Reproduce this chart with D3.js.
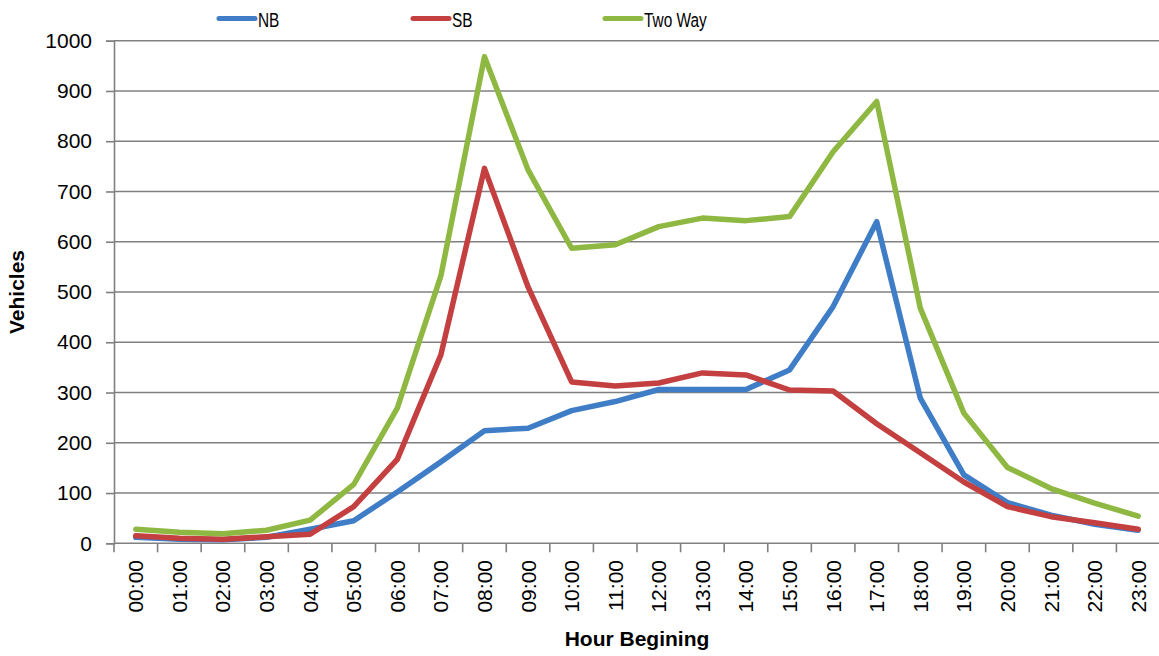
<!DOCTYPE html>
<html>
<head>
<meta charset="utf-8">
<script src="https://cdn.jsdelivr.net/npm/d3@7"></script>
<style>
  html, body { margin: 0; padding: 0; background: #fff; }
  svg { display: block; }
</style>
</head>
<body>
<svg id="chart" width="1159" height="656"></svg>
<script>
const categories = ["00:00","01:00","02:00","03:00","04:00","05:00","06:00","07:00","08:00","09:00","10:00","11:00",
                    "12:00","13:00","14:00","15:00","16:00","17:00","18:00","19:00","20:00","21:00","22:00","23:00"];
const nb     = [12, 8, 7, 12, 28, 45, 102, 162, 224, 229, 264, 282, 306, 306, 306, 345, 471, 640, 289, 136, 81, 56, 38, 26];
const sb     = [15, 10, 8, 13, 18, 73, 167, 375, 746, 510, 321, 313, 319, 339, 335, 305, 303, 238, 180, 122, 73, 53, 41, 28];
const twoWay = [28, 22, 19, 26, 46, 117, 269, 532, 968, 743, 587, 594, 630, 647, 642, 650, 779, 879, 468, 259, 151, 109, 80, 54];
const yTicks = [0, 100, 200, 300, 400, 500, 600, 700, 800, 900, 1000];
const seriesNames = ["NB", "SB", "Two Way"];
const seriesColors = ["#3F7DC6", "#C43F40", "#8FB843"];
const seriesValues = [nb, sb, twoWay];

(function () {
const svg = d3.select("#chart");
const pLeft = 114, pRight = 1160, pTop = 40.7, pBottom = 543.3;
const gray = "#808080";
const font = "'Liberation Sans', Arial, sans-serif";

const x = d3.scaleBand().domain(categories).range([pLeft, pRight]).padding(0);
const y = d3.scaleLinear().domain([0, 1000]).range([pBottom, pTop]);
const cx = c => x(c) + x.bandwidth() / 2;

// gridlines
svg.append("g").selectAll("line").data(yTicks).join("line")
  .attr("x1", pLeft).attr("x2", pRight)
  .attr("y1", d => y(d)).attr("y2", d => y(d))
  .attr("stroke", gray).attr("stroke-width", 1.6);

// y axis
const yAxis = svg.append("g").attr("transform", `translate(${pLeft},0)`)
  .call(d3.axisLeft(y).tickValues(yTicks).tickSize(8).tickPadding(14).tickFormat(d3.format("d")));
yAxis.select(".domain").attr("stroke", gray).attr("stroke-width", 1.6);
yAxis.selectAll(".tick line").attr("stroke", gray).attr("stroke-width", 1.6);
yAxis.selectAll("text").attr("font-family", font).attr("font-size", 21).attr("fill", "#000");

// x axis ticks at band boundaries
const bounds = categories.map(c => x(c)).concat([pRight]);
svg.append("g").selectAll("line").data(bounds).join("line")
  .attr("x1", d => d).attr("x2", d => d)
  .attr("y1", pBottom).attr("y2", pBottom + 9)
  .attr("stroke", gray).attr("stroke-width", 1.6);

// x tick labels
svg.append("g").selectAll("text").data(categories).join("text")
  .attr("transform", d => `translate(${cx(d) + 7.5},${560}) rotate(-90)`)
  .attr("text-anchor", "end")
  .attr("font-family", font).attr("font-size", 21).attr("fill", "#000")
  .text(d => d);

// lines
const line = d3.line().x((d, i) => cx(categories[i])).y(d => y(d));
seriesValues.forEach((vals, k) => {
  svg.append("path").datum(vals)
    .attr("d", line)
    .attr("fill", "none")
    .attr("stroke", seriesColors[k])
    .attr("stroke-width", 5.5)
    .attr("stroke-linejoin", "round")
    .attr("stroke-linecap", "round");
});

// axis titles
svg.append("text")
  .attr("x", (pLeft + pRight) / 2).attr("y", 646)
  .attr("text-anchor", "middle")
  .attr("font-family", font).attr("font-weight", "bold").attr("font-size", 21)
  .text("Hour Begining");
svg.append("text")
  .attr("transform", `translate(24,${(pTop + pBottom) / 2}) rotate(-90)`)
  .attr("text-anchor", "middle")
  .attr("font-family", font).attr("font-weight", "bold").attr("font-size", 21)
  .text("Vehicles");

// legend
const legendX = [219, 413, 605];
const lg = svg.append("g");
seriesNames.forEach((name, k) => {
  lg.append("line")
    .attr("x1", legendX[k]).attr("x2", legendX[k] + 36)
    .attr("y1", 18.5).attr("y2", 18.5)
    .attr("stroke", seriesColors[k]).attr("stroke-width", 5)
    .attr("stroke-linecap", "round");
  lg.append("text")
    .attr("transform", `translate(${legendX[k] + 39},26.5) scale(0.77,1)`)
    .attr("font-family", font)
    .attr("font-size", 20).attr("fill", "#000")
    .text(name);
});
})();
</script>
</body>
</html>
